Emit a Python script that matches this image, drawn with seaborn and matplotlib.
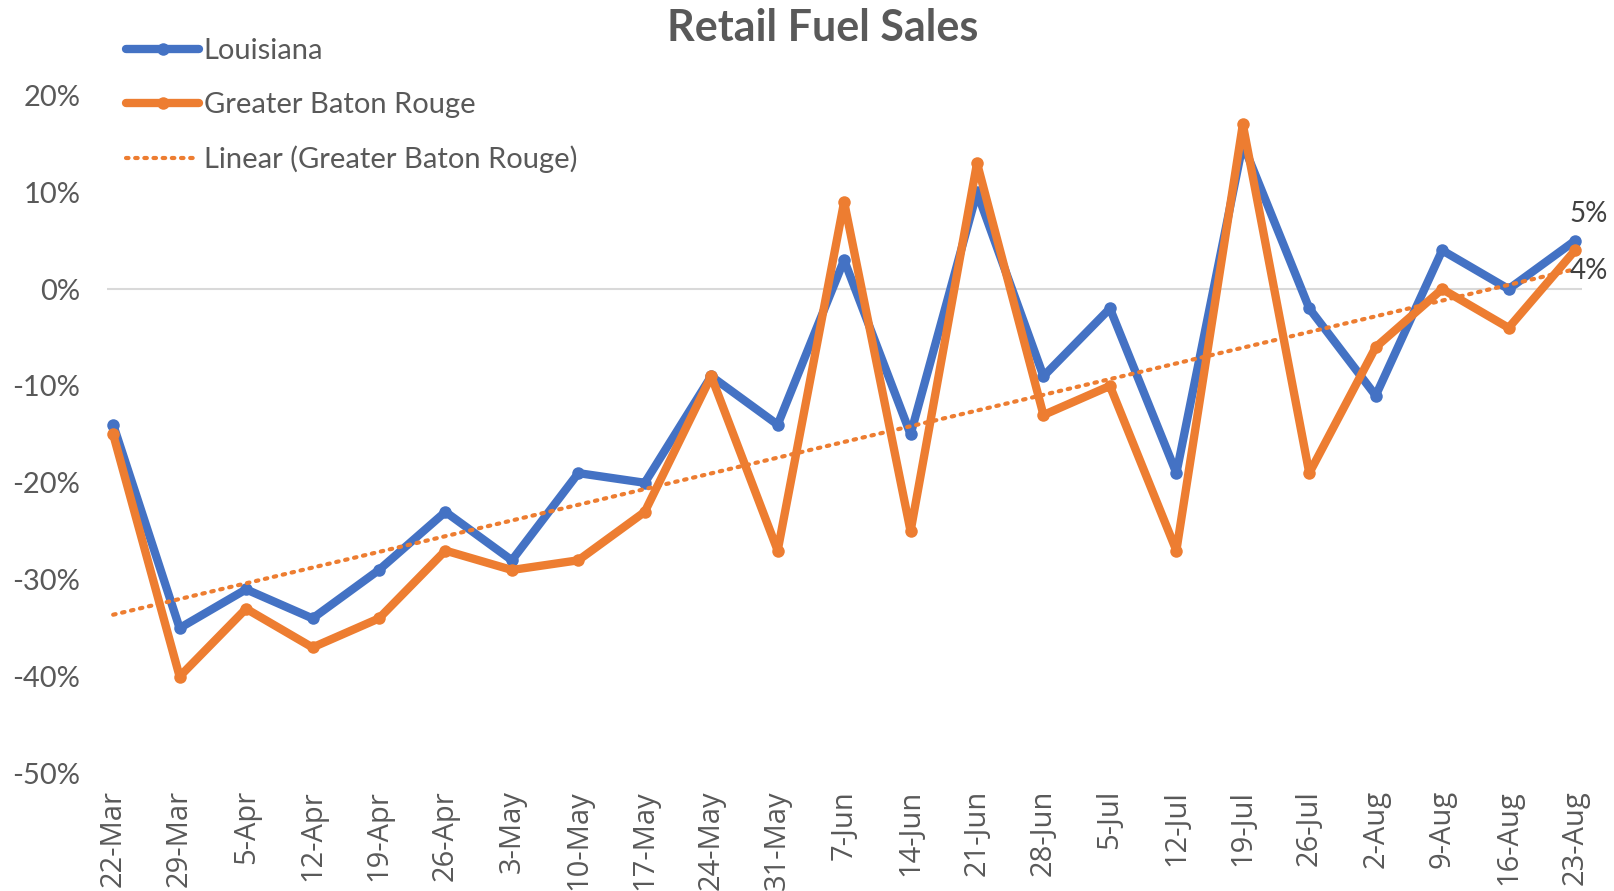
import pandas as pd
import numpy as np
import matplotlib
matplotlib.use("Agg")
import matplotlib.pyplot as plt
import seaborn as sns
from matplotlib.ticker import PercentFormatter
from matplotlib.lines import Line2D

# semanas
fechas = ["22-Mar", "29-Mar", "5-Apr", "12-Apr", "19-Apr", "26-Apr", "3-May", "10-May",
          "17-May", "24-May", "31-May", "7-Jun", "14-Jun", "21-Jun", "28-Jun", "5-Jul",
          "12-Jul", "19-Jul", "26-Jul", "2-Aug", "9-Aug", "16-Aug", "23-Aug"]

louisiana = [-14, -35, -31, -34, -29, -23, -28, -19, -20, -9, -14, 3, -15, 10, -9, -2,
             -19, 15, -2, -11, 4, 0, 5]
baton_rouge = [-15, -40, -33, -37, -34, -27, -29, -28, -23, -9, -27, 9, -25, 13, -13, -10,
               -27, 17, -19, -6, 0, -4, 4]

y_ticks = [-50, -40, -30, -20, -10, 0, 10, 20]

azul = "#4472C4"
naranja = "#ED7D31"
gris = "#595959"

df = pd.DataFrame({
    "idx": list(range(len(fechas))) * 2,
    "valor": louisiana + baton_rouge,
    "serie": ["Louisiana"] * len(fechas) + ["Greater Baton Rouge"] * len(fechas),
})

sns.set_style("white")
plt.rcParams["font.family"] = ["Lato", "DejaVu Sans"]
plt.rcParams["axes.unicode_minus"] = False

fig = plt.figure(figsize=(16.14, 8.91), dpi=100)
ax = fig.add_axes([0.066, 0.132, 0.914, 0.761])

ax.axhline(0, color="#D9D9D9", lw=1.5, zorder=0)

sns.lineplot(data=df, x="idx", y="valor", hue="serie",
             palette={"Louisiana": azul, "Greater Baton Rouge": naranja},
             marker="o", markersize=9, markeredgewidth=0, linewidth=6,
             ax=ax, legend=False)

sns.regplot(x=list(range(len(fechas))), y=baton_rouge, scatter=False, ci=None, ax=ax,
            line_kws=dict(color=naranja, lw=3, linestyle=(0, (0.6, 1.6)),
                          dash_capstyle="round"))

ax.set_xlim(-0.1, len(fechas) - 0.9)
ax.set_ylim(-50, 20)
ax.set_yticks(y_ticks)
ax.yaxis.set_major_formatter(PercentFormatter(decimals=0))
ax.set_xticks(range(len(fechas)))
ax.set_xticklabels(fechas, rotation=90, family=["Open Sans", "DejaVu Sans"], fontsize=21, color=gris)
ax.tick_params(axis="y", labelsize=21, labelcolor=gris, length=0, pad=19)
ax.tick_params(axis="x", length=0, pad=12)
ax.set_xlabel("")
ax.set_ylabel("")
sns.despine(ax=ax, left=True, bottom=True)

# etiquetas del último punto
ax.annotate(f"{louisiana[-1]}%", (len(fechas) - 1, louisiana[-1]), xytext=(10, 19),
            textcoords="offset points", ha="center", va="center", fontsize=20, color="#404040")
ax.annotate(f"{baton_rouge[-1]}%", (len(fechas) - 1, baton_rouge[-1]), xytext=(10, -15),
            textcoords="offset points", ha="center", va="center", fontsize=20, color="#404040")

fig.text(0.51, 0.969, "Retail Fuel Sales", ha="center", va="center", fontsize=31,
         fontweight="bold", color=gris)

handles = [
    Line2D([], [], color=azul, lw=6, marker="o", markersize=9, markeredgewidth=0,
           solid_capstyle="round"),
    Line2D([], [], color=naranja, lw=6, marker="o", markersize=9, markeredgewidth=0,
           solid_capstyle="round"),
    Line2D([], [], color=naranja, lw=3, linestyle=(0, (0.6, 1.6)), dash_capstyle="round"),
]
fig.legend(handles, ["Louisiana", "Greater Baton Rouge", "Linear (Greater Baton Rouge)"],
           loc="upper left", bbox_to_anchor=(0.071, 0.97), frameon=False, fontsize=21,
           labelcolor=gris, handlelength=2.5, handletextpad=0.15, labelspacing=0.95,
           borderaxespad=0)

fig.savefig("out.png", dpi=100)
